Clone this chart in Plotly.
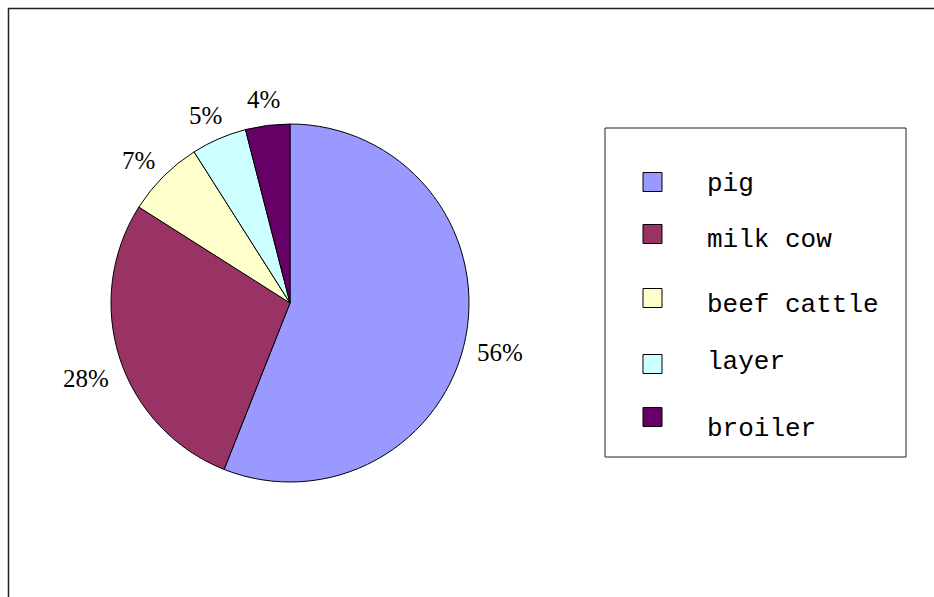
import math
import plotly.graph_objects as go

# Livestock categories and their shares (%)
categories = ["pig", "milk cow", "beef cattle", "layer", "broiler"]
shares = [56, 28, 7, 5, 4]
colors = ["#9999FF", "#993366", "#FFFFCC", "#CCFFFF", "#660066"]

W, H = 934, 597

fig = go.Figure()

# Pie centred at (290, 303) px with radius ~179 px
cx, cy, r = 290, 303, 179
fig.add_trace(go.Pie(
    labels=categories,
    values=shares,
    sort=False,
    direction="clockwise",
    rotation=0,
    marker=dict(colors=colors, line=dict(color="#000000", width=1)),
    textinfo="none",
    domain=dict(x=[(cx - r) / W, (cx + r) / W], y=[1 - (cy + r) / H, 1 - (cy - r) / H]),
    showlegend=False,
    hoverinfo="label+percent",
))

shapes = []
annotations = []

# Percentage labels placed outside each slice along its mid-angle
total = sum(shares)
label_dist = 214
start = 0.0
for v in shares:
    mid = (start + v / 2) / total * 2 * math.pi  # clockwise from 12 o'clock
    start += v
    px = cx + label_dist * math.sin(mid)
    py = cy - label_dist * math.cos(mid)
    annotations.append(dict(xref="paper", yref="paper", x=px / W, y=1 - py / H,
                            xanchor="center", yanchor="middle", showarrow=False,
                            yshift=-9,
                            text=f"{round(v / total * 100)}%",
                            font=dict(family="Liberation Serif", size=25, color="#000000")))

# Outer chart frame
shapes.append(dict(type="rect", xref="paper", yref="paper",
                   x0=8.5 / W, x1=1.2, y0=-0.2, y1=1 - 8.5 / H,
                   line=dict(color="#222222", width=1.5), fillcolor="rgba(0,0,0,0)"))

# Legend box
lx0, lx1, ly0, ly1 = 605, 906, 128, 457
shapes.append(dict(type="rect", xref="paper", yref="paper",
                   x0=lx0 / W, x1=lx1 / W, y0=1 - ly1 / H, y1=1 - ly0 / H,
                   line=dict(color="#222222", width=1), fillcolor="#FFFFFF"))

swatch_y = [182, 234, 298, 364, 417]
label_y = [184, 240, 305, 362, 429]
for name, col, sy, ty in zip(categories, colors, swatch_y, label_y):
    shapes.append(dict(type="rect", xref="paper", yref="paper",
                       x0=643 / W, x1=662 / W, y0=1 - (sy + 9.5) / H, y1=1 - (sy - 9.5) / H,
                       line=dict(color="#000000", width=1), fillcolor=col))
    annotations.append(dict(xref="paper", yref="paper", x=705 / W, y=1 - ty / H,
                            xanchor="left", yanchor="middle", showarrow=False,
                            text=name,
                            font=dict(family="Liberation Mono", size=26, color="#000000")))

fig.update_layout(
    width=W, height=H,
    margin=dict(l=0, r=0, t=0, b=0),
    paper_bgcolor="#FFFFFF",
    plot_bgcolor="#FFFFFF",
    shapes=shapes,
    annotations=annotations,
)

fig.write_html("out.html")
